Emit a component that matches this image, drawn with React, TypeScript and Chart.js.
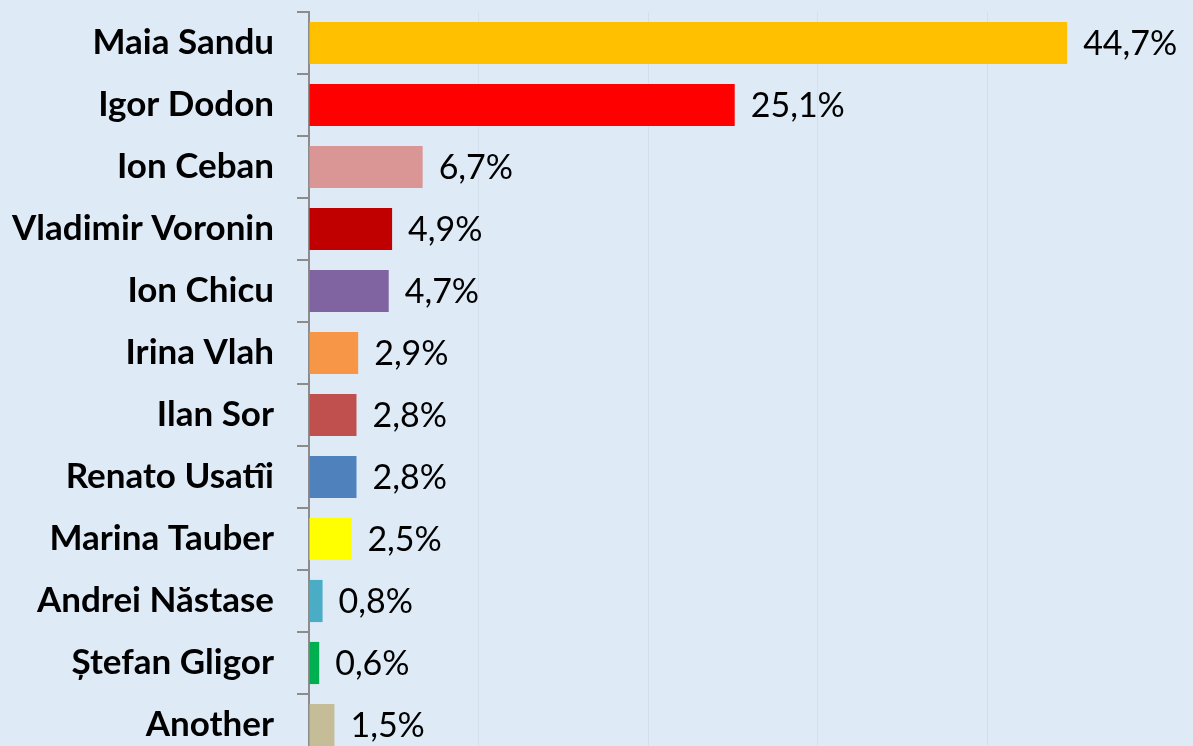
import React, { useEffect, useRef } from "react";
import { Chart, registerables } from "chart.js";

Chart.register(...registerables);

const categories = [
  "Maia Sandu",
  "Igor Dodon",
  "Ion Ceban",
  "Vladimir Voronin",
  "Ion Chicu",
  "Irina Vlah",
  "Ilan Sor",
  "Renato Usatîi",
  "Marina Tauber",
  "Andrei Năstase",
  "Ștefan Gligor",
  "Another",
];

const values = [44.7, 25.1, 6.7, 4.9, 4.7, 2.9, 2.8, 2.8, 2.5, 0.8, 0.6, 1.5];

const valueLabels = ["44,7%", "25,1%", "6,7%", "4,9%", "4,7%", "2,9%", "2,8%", "2,8%", "2,5%", "0,8%", "0,6%", "1,5%"];

const barColors = [
  "#FFC000",
  "#FF0000",
  "#DA9694",
  "#C00000",
  "#8064A2",
  "#F79646",
  "#C0504D",
  "#4F81BD",
  "#FFFF00",
  "#4BACC6",
  "#00B050",
  "#C4BD97",
];

const X_MAX = 52.12;
const BG = "#DEEAF6";

const valueLabelPlugin = {
  id: "valueLabels",
  afterDatasetsDraw(chart: any) {
    const ctx = chart.ctx;
    const meta = chart.getDatasetMeta(0);
    ctx.save();
    ctx.font = "34px Lato";
    ctx.fillStyle = "#000000";
    ctx.textAlign = "left";
    ctx.textBaseline = "middle";
    meta.data.forEach((bar: any, i: number) => {
      ctx.fillText(valueLabels[i], bar.x + 16, bar.y + 1);
    });
    ctx.restore();
  },
};

const bgPlugin = {
  id: "bgFill",
  beforeDraw(chart: any) {
    const ctx = chart.ctx;
    ctx.save();
    ctx.fillStyle = BG;
    ctx.fillRect(0, 0, chart.width, chart.height);
    ctx.restore();
  },
};

export default function App() {
  const canvasRef = useRef<HTMLCanvasElement | null>(null);

  useEffect(() => {
    if (!canvasRef.current) return;
    const chart = new Chart(canvasRef.current, {
      type: "bar",
      data: {
        labels: categories,
        datasets: [
          {
            data: values,
            backgroundColor: barColors,
            borderWidth: 0,
            categoryPercentage: 1,
            barPercentage: 0.68,
          },
        ],
      },
      options: {
        indexAxis: "y",
        animation: false,
        responsive: false,
        maintainAspectRatio: false,
        layout: { padding: { top: 12, right: 0, bottom: 0, left: 0 } },
        plugins: {
          legend: { display: false },
          tooltip: { enabled: false },
          title: { display: false },
        },
        scales: {
          x: {
            min: 0,
            max: X_MAX,
            ticks: { display: false, stepSize: 10 },
            border: { display: false },
            grid: {
              drawTicks: false,
              color: (c: any) =>
                c.tick && Math.abs(c.tick.value % 10) < 1e-6 && c.tick.value > 0
                  ? "#D3DFEC"
                  : "rgba(0,0,0,0)",
              lineWidth: 1,
            },
            afterFit: (scale: any) => {
              scale.height = 0;
              scale.paddingLeft = 0;
              scale.paddingRight = 0;
            },
          },
          y: {
            border: { display: true, color: "#8C8C8C", width: 2 },
            grid: {
              drawOnChartArea: false,
              offset: true,
              tickLength: 12,
              color: "#8C8C8C",
              lineWidth: 2,
            },
            ticks: {
              color: "#000000",
              padding: 23,
              font: { family: "Lato", size: 35, weight: "bold" },
            },
            afterFit: (scale: any) => {
              scale.width = 309;
              scale.paddingTop = 0;
              scale.paddingBottom = 0;
            },
          },
        },
      },
      plugins: [bgPlugin, valueLabelPlugin],
    });
    return () => chart.destroy();
  }, []);

  return (
    <div
      style={{
        position: "fixed",
        left: 0,
        top: 0,
        width: 1193,
        height: 756,
        background: BG,
      }}
    >
      <canvas ref={canvasRef} width={1193} height={756} style={{ display: "block" }} />
    </div>
  );
}
